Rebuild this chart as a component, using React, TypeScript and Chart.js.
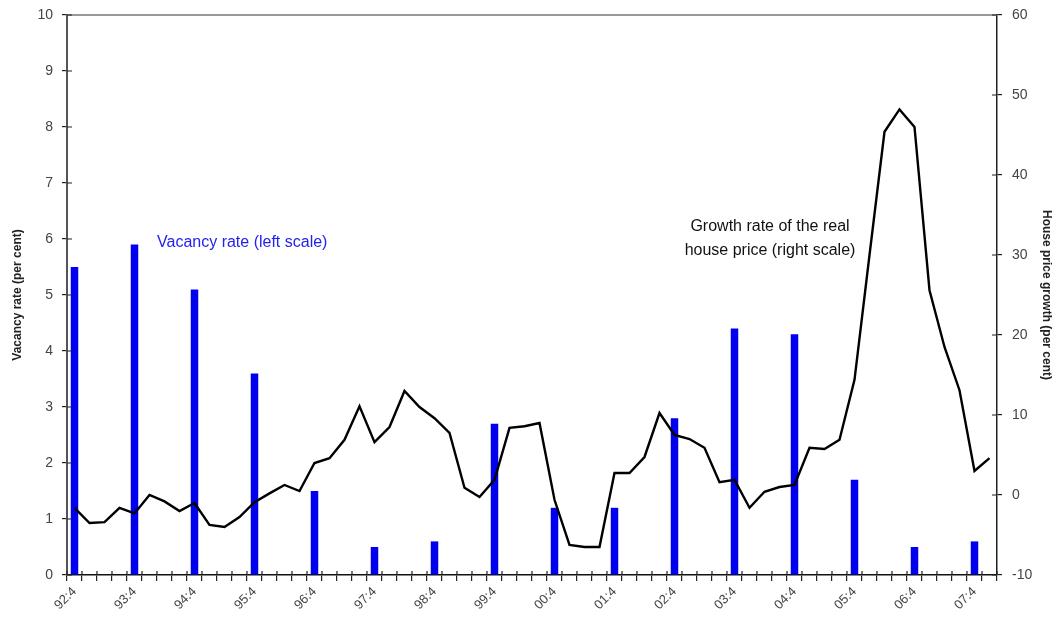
import React, { useEffect, useRef } from "react";
import { Chart, registerables } from "chart.js";

Chart.register(...registerables);

const years = ["92", "93", "94", "95", "96", "97", "98", "99", "00", "01", "02", "03", "04", "05", "06", "07"];

// quarterly categories from 92:4 to 08:1
const quarters: string[] = (() => {
  const out: string[] = ["92:4"];
  const yy = ["93", "94", "95", "96", "97", "98", "99", "00", "01", "02", "03", "04", "05", "06", "07", "08"];
  for (const y of yy) {
    for (const q of [1, 2, 3, 4]) {
      if (y === "08" && q > 1) break;
      out.push(`${y}:${q}`);
    }
  }
  return out;
})();

// vacancy rate, Q4 each year (left scale)
const vacancyQ4 = [5.5, 5.9, 5.1, 3.6, 1.5, 0.5, 0.6, 2.7, 1.2, 1.2, 2.8, 4.4, 4.3, 1.7, 0.5, 0.6];

// real house price growth (right scale), quarterly 92:4 .. 08:1
const priceGrowth = [
  -1.6, -3.5, -3.4, -1.6,
  -2.3, 0.0, -0.8, -2.0,
  -1.0, -3.75, -4.0, -2.75,
  -0.9, 0.2, 1.25, 0.5,
  4.0, 4.6, 6.9, 11.1,
  6.6, 8.5, 13.0, 11.0,
  9.6, 7.75, 0.9, -0.25,
  1.9, 8.4, 8.6, 9.0,
  -0.6, -6.25, -6.5, -6.5,
  2.75, 2.75, 4.75, 10.25,
  7.5, 7.0, 5.9, 1.6,
  1.9, -1.6, 0.4, 1.0,
  1.25, 5.9, 5.75, 6.9,
  14.4, 30.0, 45.4, 48.2,
  46.0, 25.6, 18.5, 13.1,
  3.0, 4.6,
];

const leftTicks = [0, 1, 2, 3, 4, 5, 6, 7, 8, 9, 10];
const rightTicks = [-10, 0, 10, 20, 30, 40, 50, 60];

const vacancyLabel = "Vacancy rate (left scale)";
const growthLabel = ["Growth rate of the real", "house price (right scale)"];

const vacancySeries = quarters.map((q) => {
  const [y, qq] = q.split(":");
  const idx = years.indexOf(y);
  return qq === "4" && idx >= 0 ? vacancyQ4[idx] : null;
});

const FONT = "'Liberation Sans', Arial, sans-serif";

export default function App() {
  const ref = useRef<HTMLCanvasElement | null>(null);
  useEffect(() => {
    if (!ref.current) return;
    const decor = {
      id: "decor",
      afterDraw(chart: any) {
        const { ctx, chartArea } = chart;
        const x = chart.scales.x;
        const yl = chart.scales.yL;
        const yr = chart.scales.yR;
        ctx.save();
        // top border
        ctx.strokeStyle = "#777";
        ctx.lineWidth = 1.5;
        ctx.beginPath();
        ctx.moveTo(chartArea.left, chartArea.top);
        ctx.lineTo(chartArea.right, chartArea.top);
        ctx.stroke();
        // inner tick halves
        ctx.strokeStyle = "#222";
        ctx.lineWidth = 1.2;
        ctx.beginPath();
        for (let i = 0; i < yl.ticks.length; i++) {
          const p = yl.getPixelForTick(i);
          ctx.moveTo(chartArea.left, p);
          ctx.lineTo(chartArea.left + 5, p);
        }
        for (let i = 0; i < yr.ticks.length; i++) {
          const p = yr.getPixelForTick(i);
          ctx.moveTo(chartArea.right - 5, p);
          ctx.lineTo(chartArea.right, p);
        }
        const n = x.ticks.length;
        for (let i = 0; i <= n; i++) {
          let p;
          if (i === 0) p = x.getPixelForTick(0) - (x.getPixelForTick(1) - x.getPixelForTick(0)) / 2;
          else if (i === n) p = x.getPixelForTick(n - 1) + (x.getPixelForTick(n - 1) - x.getPixelForTick(n - 2)) / 2;
          else p = (x.getPixelForTick(i - 1) + x.getPixelForTick(i)) / 2;
          ctx.moveTo(p, chartArea.bottom - 4);
          ctx.lineTo(p, chartArea.bottom);
        }
        ctx.stroke();
        // annotations
        ctx.font = `16px ${FONT}`;
        ctx.textBaseline = "middle";
        ctx.fillStyle = "#2222ee";
        ctx.textAlign = "left";
        const vx = (x.getPixelForValue(5) + x.getPixelForValue(6)) / 2;
        ctx.fillText(vacancyLabel, vx, yl.getPixelForValue(5.93));
        ctx.fillStyle = "#111";
        ctx.textAlign = "center";
        const gx = (x.getPixelForValue(46) + x.getPixelForValue(47)) / 2 - 2;
        ctx.fillText(growthLabel[0], gx, yr.getPixelForValue(33.6));
        ctx.fillText(growthLabel[1], gx, yr.getPixelForValue(30.6));
        ctx.restore();
      },
    };
    const chart = new Chart(ref.current, {
      type: "bar",
      data: {
        labels: quarters,
        datasets: [
          {
            type: "line",
            label: "Growth rate of the real house price",
            data: priceGrowth,
            yAxisID: "yR",
            borderColor: "#000",
            borderWidth: 2.4,
            pointRadius: 0,
            tension: 0,
            order: 0,
          } as any,
          {
            type: "bar",
            label: "Vacancy rate",
            data: vacancySeries,
            yAxisID: "yL",
            backgroundColor: "#0000ee",
            barPercentage: 0.5,
            categoryPercentage: 1,
            order: 1,
          },
        ],
      },
      options: {
        animation: false,
        responsive: false,
        layout: { padding: { top: 15, left: 0, right: 0, bottom: 0 } },
        plugins: { legend: { display: false }, tooltip: { enabled: false } },
        scales: {
          x: {
            offset: true,
            grid: {
              offset: true,
              drawOnChartArea: false,
              drawTicks: true,
              tickLength: 6,
              color: "#222",
              lineWidth: 1.2,
            },
            border: { display: true, color: "#111", width: 1.5 },
            ticks: {
              autoSkip: false,
              maxRotation: 45,
              minRotation: 45,
              color: "#444",
              font: { family: FONT, size: 13 },
              padding: 3,
              callback: (_v: any, i: number) => (quarters[i].endsWith(":4") ? quarters[i] : ""),
            },
            afterFit: (s: any) => {
              s.height = 55;
              s.paddingLeft = 0;
              s.paddingRight = 0;
            },
          },
          yL: {
            position: "left",
            min: 0,
            max: 10,
            afterBuildTicks: (s: any) => {
              s.ticks = leftTicks.map((v) => ({ value: v }));
            },
            grid: { drawOnChartArea: false, drawTicks: true, tickLength: 5, color: "#222", lineWidth: 1.2 },
            border: { display: true, color: "#555", width: 2 },
            ticks: { color: "#444", font: { family: FONT, size: 14 }, padding: 9 },
            title: {
              display: true,
              text: "Vacancy rate (per cent)",
              color: "#222",
              font: { family: FONT, size: 12, weight: "bold" },
              padding: { top: 10, bottom: 0 },
            },
            afterFit: (s: any) => {
              s.width = 67;
              s.paddingTop = 0;
              s.paddingBottom = 0;
            },
          },
          yR: {
            position: "right",
            min: -10,
            max: 60,
            afterBuildTicks: (s: any) => {
              s.ticks = rightTicks.map((v) => ({ value: v }));
            },
            grid: { drawOnChartArea: false, drawTicks: true, tickLength: 5, color: "#222", lineWidth: 1.2 },
            border: { display: true, color: "#222", width: 1.5 },
            ticks: { color: "#444", font: { family: FONT, size: 14 }, padding: 10 },
            title: {
              display: true,
              text: "House price growth (per cent)",
              color: "#222",
              font: { family: FONT, size: 12, weight: "bold" },
              padding: { top: 7, bottom: 0 },
            },
            afterFit: (s: any) => {
              s.width = 64;
              s.paddingTop = 0;
              s.paddingBottom = 0;
            },
          },
        },
      },
      plugins: [decor],
    });
    return () => chart.destroy();
  }, []);
  return (
    <div style={{ position: "fixed", left: 0, top: 0, width: 1061, height: 630, background: "#fff" }}>
      <canvas ref={ref} width={1061} height={630} style={{ width: 1061, height: 630, display: "block" }} />
    </div>
  );
}
